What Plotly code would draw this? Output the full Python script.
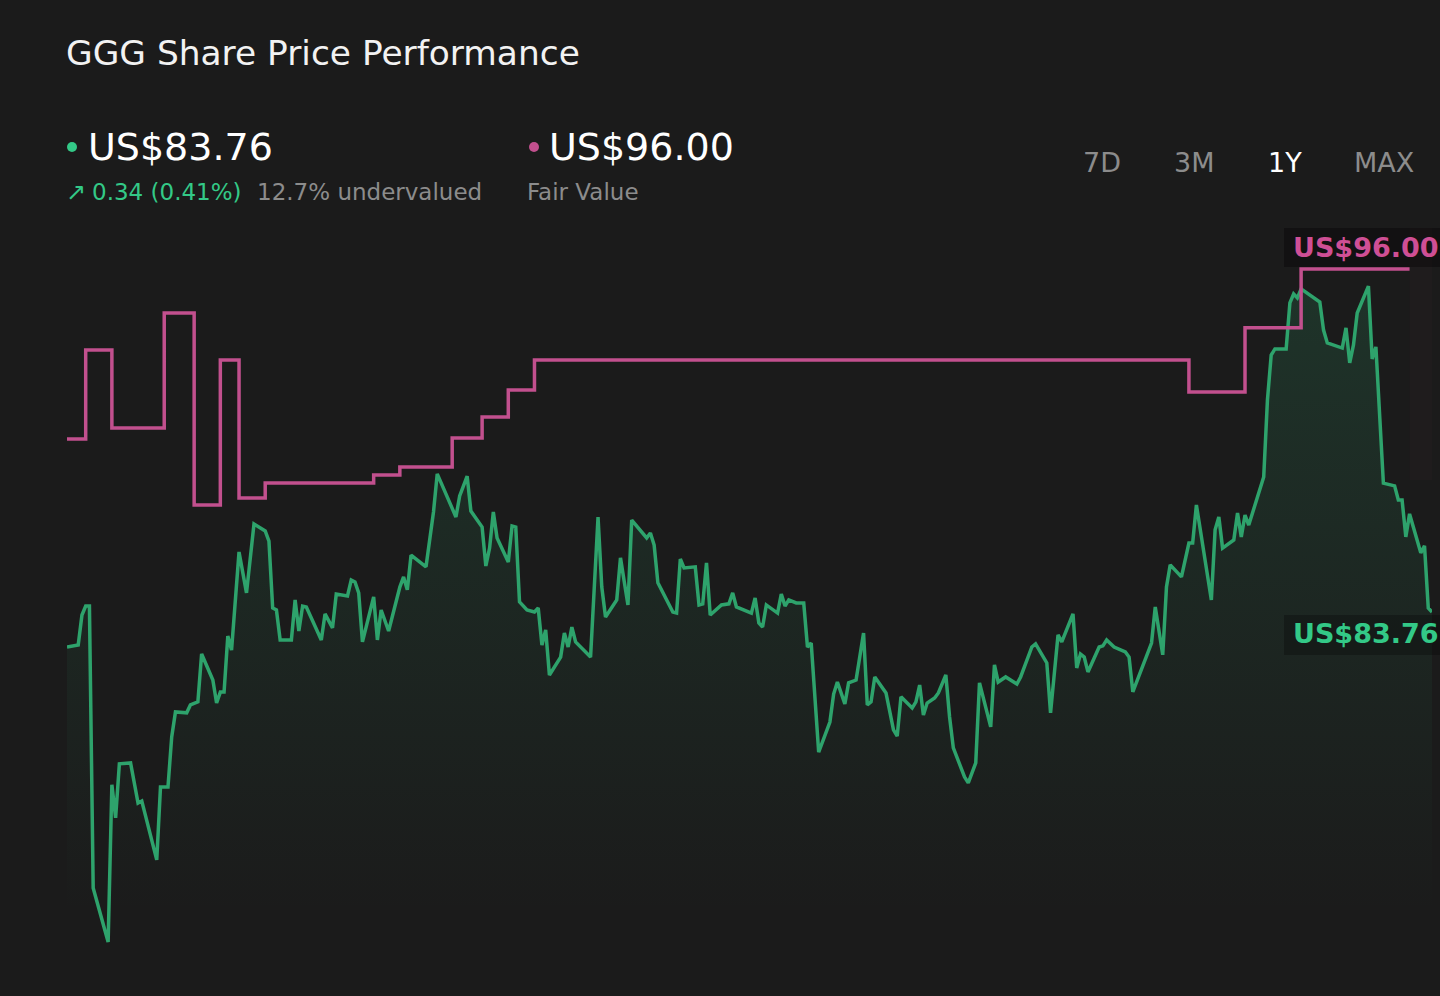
import datetime as dt
import plotly.graph_objects as go

# ---------------- data ----------------
start_date = dt.date(2023, 11, 20)

price_days = [0, 3, 4, 5, 6, 7, 11, 12, 13, 14, 17, 19, 20, 24, 25, 27, 28, 29, 32, 33,
              35, 36, 39, 40, 41, 42, 43, 44, 46, 48, 50, 53, 54, 55, 56, 57, 60, 61, 62, 63,
              64, 68, 69, 71, 72, 75, 76, 77, 78, 79, 82, 83, 84, 86, 89, 90, 91, 92, 96, 98,
              99, 104, 105, 107, 108, 111, 112, 113, 114, 115, 118, 119, 120, 121, 123, 125, 126, 127, 128, 129,
              132, 133, 134, 135, 136, 140, 142, 143, 144, 147, 148, 150, 151, 155, 156, 157, 158, 162, 163, 164,
              165, 168, 169, 170, 171, 172, 175, 177, 178, 179, 183, 184, 185, 186, 187, 190, 191, 192, 193, 195,
              197, 198, 199, 201, 204, 205, 206, 208, 209, 211, 213, 214, 215, 216, 219, 221, 222, 223, 226, 227,
              228, 229, 230, 232, 233, 235, 236, 237, 240, 241, 243, 244, 247, 248, 249, 251, 254, 255, 258, 259,
              262, 263, 265, 266, 269, 270, 271, 272, 273, 276, 277, 278, 280, 283, 284, 285, 290, 291, 293, 294,
              295, 298, 300, 301, 302, 306, 307, 308, 309, 312, 313, 314, 315, 316, 320, 321, 322, 323, 326, 327,
              328, 329, 330, 335, 336, 337, 341, 342, 343, 344, 345, 348, 349, 350, 352, 355, 356, 357, 358, 359,
              362, 363, 364, 365]
price_vals = [82.51, 82.58, 83.65, 83.97, 83.97, 73.91, 71.98, 77.59, 76.41, 78.34, 78.37, 76.94, 77.01, 74.91, 77.51, 77.51, 79.30, 80.19, 80.16, 80.44,
              80.55, 82.26, 81.33, 80.51, 80.90, 80.90, 82.90, 82.40, 85.90, 84.44, 86.90, 86.65, 86.29, 83.90, 83.83, 82.76, 82.76, 84.19, 83.08, 83.97,
              83.94, 82.76, 83.69, 83.19, 84.40, 84.33, 84.90, 84.83, 84.44, 82.69, 84.30, 82.76, 83.83, 83.08, 84.65, 85.01, 84.55, 85.79, 85.37, 87.33,
              88.69, 87.15, 87.90, 88.61, 87.36, 86.79, 85.40, 86.04, 87.33, 86.40, 85.54, 86.83, 86.79, 84.12, 83.83, 83.76, 83.90, 82.58, 83.12, 81.51,
              82.15, 83.01, 82.51, 83.22, 82.69, 82.15, 87.15, 84.65, 83.58, 84.19, 85.69, 84.01, 87.04, 86.40, 86.58, 86.15, 84.80, 83.76, 83.72, 85.65,
              85.33, 85.37, 84.01, 84.05, 85.51, 83.65, 84.01, 84.05, 84.44, 83.94, 83.72, 84.26, 83.37, 83.22, 84.01, 83.72, 84.40, 83.97, 84.19, 84.08,
              84.08, 82.51, 82.65, 78.76, 79.83, 80.83, 81.26, 80.48, 81.23, 81.33, 83.01, 80.44, 80.55, 81.44, 80.87, 79.55, 79.33, 80.73, 80.33, 80.55,
              81.15, 80.08, 80.51, 80.69, 80.87, 81.51, 80.01, 78.91, 77.87, 77.66, 78.37, 81.23, 79.66, 81.87, 81.26, 81.44, 81.19, 81.44, 82.51, 82.62,
              81.94, 80.16, 82.94, 82.69, 83.69, 81.76, 82.26, 82.15, 81.62, 82.51, 82.55, 82.76, 82.51, 82.33, 82.15, 80.91, 82.65, 83.94, 82.23, 84.65,
              85.44, 85.01, 86.22, 86.22, 87.58, 84.19, 86.69, 87.15, 86.04, 86.33, 87.29, 86.44, 87.22, 86.86, 88.58, 91.33, 92.93, 93.15, 93.15, 94.79,
              95.11, 94.97, 95.29, 94.82, 93.82, 93.36, 93.18, 93.90, 92.65, 93.29, 94.43, 95.39, 92.79, 93.22, 88.36, 88.26, 87.76, 87.76, 86.44, 87.26,
              85.87, 86.12, 83.90, 83.76]

fv_days = [0, 5, 12, 26, 34, 41, 46, 53, 82, 89, 103, 111, 118, 125, 300, 315, 330, 359]
fv_vals = [89.93, 93.11, 90.33, 94.43, 87.58, 92.75, 87.83, 88.36, 88.65, 88.93, 89.97, 90.72,
           91.68, 92.75, 91.61, 93.90, 96.00, 96.00]

title_text = "GGG Share Price Performance"
price_label = "US$83.76"
change_label = "0.34 (0.41%)"
valuation_label = "12.7% undervalued"
fair_label = "US$96.00"
fair_caption = "Fair Value"
range_buttons = ["7D", "3M", "1Y", "MAX"]
active_button = "1Y"

# ---------------- style ----------------
BG = "#1b1b1b"
GREEN = "#2ea36c"
GREEN_TXT = "#33c987"
PINK = "#c2508e"
PINK_TXT = "#cf4f95"
GREY = "#8c8c8c"
FONT = "DejaVu Sans"

W, H = 1440, 996
L, R, T, B = 67, 8, 220, 40
PW, PH = W - L - R, H - T - B


def px(x):
    return (x - L) / PW


def py(y):
    return (H - B - y) / PH


price_dates = [start_date + dt.timedelta(days=d) for d in price_days]
fv_dates = [start_date + dt.timedelta(days=d) for d in fv_days]
end_date = start_date + dt.timedelta(days=365)

fig = go.Figure()

fig.add_trace(go.Scatter(
    x=price_dates, y=price_vals, mode="lines",
    line=dict(color=GREEN, width=3.5),
    fill="tozeroy",
    fillgradient=dict(type="vertical",
                      colorscale=[[0, "rgba(46,163,108,0)"], [1, "rgba(46,163,108,0.18)"]],
                      start=73.0, stop=95.5),
    hoverinfo="skip", showlegend=False,
))

fig.add_trace(go.Scatter(
    x=fv_dates, y=fv_vals, mode="lines", line_shape="hv",
    line=dict(color=PINK, width=3.5),
    hoverinfo="skip", showlegend=False,
))

shapes = []
# faint highlight beyond the fair value line
shapes.append(dict(type="rect", xref="x", yref="paper",
                   x0=fv_dates[-1], x1=end_date, y0=py(480), y1=py(228),
                   fillcolor="rgba(194,80,142,0.022)", line_width=0, layer="below"))
# label boxes
shapes.append(dict(type="rect", xref="paper", yref="y", ysizemode="pixel",
                   yanchor=fv_vals[-1], x0=px(1284), x1=px(1445), y0=2, y1=41,
                   fillcolor="rgba(8,6,8,0.45)", line_width=0))
shapes.append(dict(type="rect", xref="paper", yref="y", ysizemode="pixel",
                   yanchor=price_vals[-1], x0=px(1284), x1=px(1445), y0=-3, y1=-43,
                   fillcolor="rgba(8,10,9,0.35)", line_width=0))
# dots in the header
for cx, col in [(72, GREEN_TXT), (534, PINK)]:
    shapes.append(dict(type="circle", xref="paper", yref="paper",
                       x0=px(cx - 5), x1=px(cx + 5), y0=py(147 + 5), y1=py(147 - 5),
                       fillcolor=col, line_width=0))

ann = []


def text(x, y, s, size, color, anchor="left", bold=False):
    ann.append(dict(xref="paper", yref="paper", x=px(x), y=py(y), text=f"<b>{s}</b>" if bold else s,
                    showarrow=False, xanchor=anchor, yanchor="middle",
                    font=dict(family=FONT, size=size, color=color)))


text(64, 53, title_text, 34.4, "#f2f2f2")
text(86, 147, price_label, 38, "#ffffff")
text(64, 192, "↗", 24, GREEN_TXT)
text(90, 192, change_label, 23, GREEN_TXT)
text(255, 192, valuation_label, 23, GREY)
text(547, 147, fair_label, 38, "#ffffff")
text(525, 192, fair_caption, 23, GREY)

btn_x = [1102, 1194, 1285, 1384]
for bx, lab in zip(btn_x, range_buttons):
    text(bx, 162, lab, 27, "#ffffff" if lab == active_button else GREY, anchor="center")

ann.append(dict(xref="paper", yref="y", x=px(1291), y=fv_vals[-1], yshift=22,
                text=f"<b>{fair_label}</b>", showarrow=False, xanchor="left", yanchor="middle",
                font=dict(family=FONT, size=27, color=PINK_TXT)))
ann.append(dict(xref="paper", yref="y", x=px(1291), y=price_vals[-1], yshift=-22,
                text=f"<b>{price_label}</b>", showarrow=False, xanchor="left", yanchor="middle",
                font=dict(family=FONT, size=27, color=GREEN_TXT)))

fig.update_layout(
    width=W, height=H,
    margin=dict(l=L, r=R, t=T, b=B, pad=0),
    paper_bgcolor=BG, plot_bgcolor=BG,
    shapes=shapes, annotations=ann,
    xaxis=dict(range=[start_date, end_date], visible=False, showgrid=False, zeroline=False, fixedrange=True),
    yaxis=dict(range=[71.48, 97.75], visible=False, showgrid=False, zeroline=False, fixedrange=True),
    font=dict(family=FONT),
    hovermode=False,
)

fig.write_html(
    "out.html",
    config={"displayModeBar": False},
    post_script=("document.body.style.margin='0';document.body.style.overflow='hidden';"
                 "document.body.style.background='#1b1b1b';"
                 "document.documentElement.style.background='#1b1b1b';"),
)
